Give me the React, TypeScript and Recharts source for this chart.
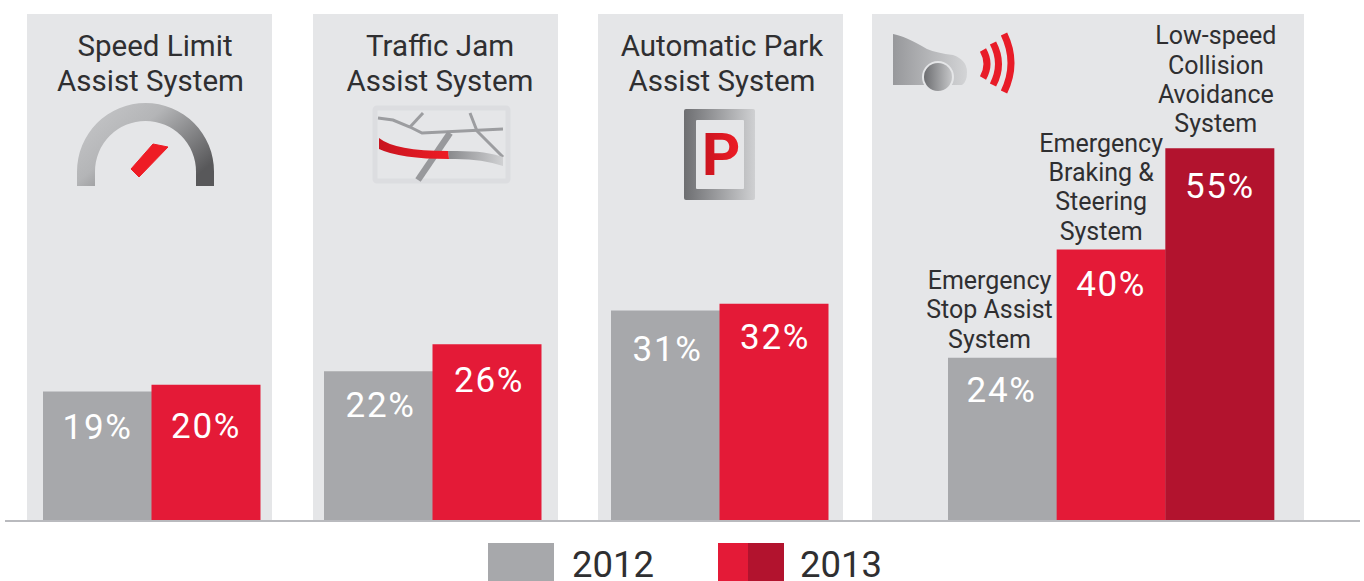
import React from 'react';
import { BarChart, Bar, XAxis, YAxis, Cell, LabelList } from 'recharts';

const FONT = 'Roboto, sans-serif';
const GREY = '#a7a8ab';
const RED = '#e41a37';
const DARK_RED = '#b2132e';
const PANEL = '#e5e6e8';
const INK = '#2f2f31';

const years = ['2012', '2013'];
const speedLimitValues = [19, 20];
const trafficJamValues = [22, 26];
const parkAssistValues = [31, 32];

const emergencySystems = [
    'Emergency\nStop Assist\nSystem',
    'Emergency\nBraking &\nSteering\nSystem',
    'Low-speed\nCollision\nAvoidance\nSystem',
];
const emergencyValues = [24, 40, 55];

const pairColors = [GREY, RED];
const tripleColors = [GREY, RED, DARK_RED];
const captionShift = [-13, -10, -4];
const captionGap = [10, 10, 16];

const HEIGHT = 581;
const MARGIN_TOP = 13;
const MARGIN_BOTTOM = 61;

function pairRows(values: number[]) {
    return years.map((name, i) => ({ name, value: values[i] }));
}

const emergencyRows = emergencySystems.map((name, i) => ({ name, caption: name, value: emergencyValues[i] }));

function CaptionLabel(props: any) {
    const { x, y, width, value, index } = props;
    const lines = String(value).split('\n');
    const cx = x + width / 2 + captionShift[index];
    const bottom = y - captionGap[index];
    return (
        <text textAnchor="middle" fontFamily={FONT} fontSize={25} fill={INK}>
            {lines.map((line, i) => (
                <tspan key={line} x={cx} y={bottom - (lines.length - 1 - i) * 29.3}>{line}</tspan>
            ))}
        </text>
    );
}

// the percentages sit at slightly different depths below each bar top in the original
function percentLabel(drops: number[], nudges: number[]) {
    return function PercentLabel(props: any) {
        const { x, y, width, value, index } = props;
        return (
            <text
                x={x + width / 2 + nudges[index]}
                y={y + drops[index]}
                textAnchor="middle"
                fontFamily={FONT}
                fontSize={35}
                letterSpacing={1.6}
                fill="#ffffff"
            >
                {`${value}%`}
            </text>
        );
    };
}

function Panel({ left, width, barLeft, barRight, rows, colors, drops, nudges }: any) {
    return (
        <div style={{ position: 'absolute', left, top: 0, width, height: HEIGHT }}>
            <div style={{ position: 'absolute', left: 0, right: 0, top: 14, height: 506, background: PANEL }} />
            <BarChart
                width={width}
                height={HEIGHT}
                data={rows}
                barCategoryGap={0}
                margin={{ top: MARGIN_TOP, bottom: MARGIN_BOTTOM, left: barLeft, right: barRight }}
                style={{ position: 'absolute', left: 0, top: 0 }}
            >
                <XAxis dataKey="name" hide />
                <YAxis domain={[0, 75]} hide />
                <Bar dataKey="value" isAnimationActive={false}>
                    {rows.map((row: any, i: number) => (
                        <Cell key={row.name} fill={colors[i]} />
                    ))}
                    <LabelList dataKey="value" content={percentLabel(drops, nudges)} />
                    {rows[0].caption ? <LabelList dataKey="caption" content={CaptionLabel} /> : null}
                </Bar>
            </BarChart>
        </div>
    );
}

function Title({ x1, x2, lines }: any) {
    return (
        <text fontFamily={FONT} fontSize={29.5} fill={INK} textAnchor="middle">
            <tspan x={x1} y={56}>{lines[0]}</tspan>
            <tspan x={x2} y={91}>{lines[1]}</tspan>
        </text>
    );
}

function Overlay() {
    return (
        <svg width={1364} height={HEIGHT} style={{ position: 'absolute', left: 0, top: 0, pointerEvents: 'none' }}>
            <defs>
                <linearGradient id="gauge" x1="0" y1="0" x2="1" y2="0.7">
                    <stop offset="0" stopColor="#c9cacc" />
                    <stop offset="0.45" stopColor="#b4b5b7" />
                    <stop offset="1" stopColor="#58585a" />
                </linearGradient>
                <linearGradient id="road" x1="0" y1="0" x2="1" y2="0">
                    <stop offset="0" stopColor="#88898c" />
                    <stop offset="1" stopColor="#d0d1d3" />
                </linearGradient>
                <linearGradient id="frame" x1="0" y1="0" x2="1" y2="0">
                    <stop offset="0" stopColor="#6d6e71" />
                    <stop offset="1" stopColor="#cfd0d2" />
                </linearGradient>
                <linearGradient id="car" x1="0" y1="0" x2="1" y2="0">
                    <stop offset="0" stopColor="#97989b" />
                    <stop offset="1" stopColor="#d3d4d6" />
                </linearGradient>
                <linearGradient id="wheel" x1="0" y1="0" x2="1" y2="0">
                    <stop offset="0" stopColor="#6d6e71" />
                    <stop offset="1" stopColor="#c5c6c8" />
                </linearGradient>
                <linearGradient id="redFade" x1="0" y1="0" x2="1" y2="0">
                    <stop offset="0" stopColor="#c8141f" />
                    <stop offset="1" stopColor="#ee1c25" />
                </linearGradient>
            </defs>

            <Title x1={155} x2={150.5} lines={['Speed Limit', 'Assist System']} />
            <Title x1={440} x2={440} lines={['Traffic Jam', 'Assist System']} />
            <Title x1={722} x2={722} lines={['Automatic Park', 'Assist System']} />

            {/* speedometer */}
            <path d="M77 186 L77 171.5 A68.5 68.5 0 0 1 214 171.5 L214 186 L196 186 L196 171.5 A50.5 50.5 0 0 0 95 171.5 L95 186 Z" fill="url(#gauge)" />
            <path d="M153 144 L168 147 L139 177 L131 169 Z" fill="#ee1c25" stroke="#ee1c25" strokeLinejoin="round" />

            {/* traffic map */}
            <rect x={375} y={108} width={133} height={73} rx={2} fill="none" stroke="#dcdde0" strokeWidth={5} />
            <g fill="none" stroke="#9c9da0" strokeWidth={3}>
                <path d="M378 118 L393 120 L410 127 L422 133 L503 129" />
                <path d="M410 127 L423 113" />
                <path d="M470 113 L477 131 L503 157" />
            </g>
            <path d="M450 133 L418 180" stroke="#98999c" strokeWidth={6.5} fill="none" />
            <path d="M448 151 Q485 150 503 157 L503 166 Q480 158 449 159 Z" fill="url(#road)" />
            <path d="M379 138 Q395 151 448 151 L449 159 Q400 159 379 149 Z" fill="url(#redFade)" />

            {/* parking sign */}
            <rect x={684} y={109} width={71} height={91} rx={2} fill="url(#frame)" />
            <rect x={696} y={120} width={48} height={69} rx={1} fill={PANEL} />
            <text x={721} y={175} textAnchor="middle" fontFamily={FONT} fontWeight={700} fontSize={60} fill="url(#redFade)">P</text>

            {/* car and sensor waves */}
            <path d="M893 34 Q905 36 927 49 Q937 53 953 55 Q967 60 967 72 Q967 82 962 85 L893 85 Z" fill="url(#car)" />
            <circle cx={938} cy={77} r={16} fill={PANEL} />
            <circle cx={938} cy={77} r={14} fill="url(#wheel)" />
            <g fill="none" stroke="#e81c28" strokeWidth={7}>
                <path d="M983 50 Q991 64 983 78" />
                <path d="M993 43 Q1004 64 993 85" />
                <path d="M1004 34 Q1018 63 1004 92" />
            </g>
        </svg>
    );
}

function YearLegend() {
    const swatch = (left: number, width: number, color: string) => (
        <div style={{ position: 'absolute', left, top: 543, width, height: 38, background: color }} />
    );
    const label = (left: number, text: string) => (
        <div style={{ position: 'absolute', left, top: 549, font: `36.5px ${FONT}`, lineHeight: '32px', color: INK }}>{text}</div>
    );
    return (
        <>
            {swatch(488, 66, GREY)}
            {label(572, '2012')}
            {swatch(718, 30, RED)}
            {swatch(748, 36, DARK_RED)}
            {label(800, '2013')}
        </>
    );
}

export default function App() {
    return (
        <div style={{ position: 'absolute', left: 0, top: 0, width: 1364, height: HEIGHT, overflow: 'hidden', background: '#ffffff' }}>
            <Panel left={27} width={245} barLeft={16} barRight={12} rows={pairRows(speedLimitValues)} colors={pairColors} drops={[47, 53]} nudges={[0, 0]} />
            <Panel left={313} width={245} barLeft={11} barRight={17} rows={pairRows(trafficJamValues)} colors={pairColors} drops={[46, 48]} nudges={[2, 2]} />
            <Panel left={598} width={245} barLeft={13} barRight={15} rows={pairRows(parkAssistValues)} colors={pairColors} drops={[51, 45]} nudges={[2, 1]} />
            <Panel left={872} width={432} barLeft={76} barRight={30} rows={emergencyRows} colors={tripleColors} drops={[44, 46, 50]} nudges={[-1, 0, 0]} />
            <div style={{ position: 'absolute', left: 5, top: 520, width: 1355, height: 2, background: '#b9babe' }} />
            <Overlay />
            <YearLegend />
        </div>
    );
}
